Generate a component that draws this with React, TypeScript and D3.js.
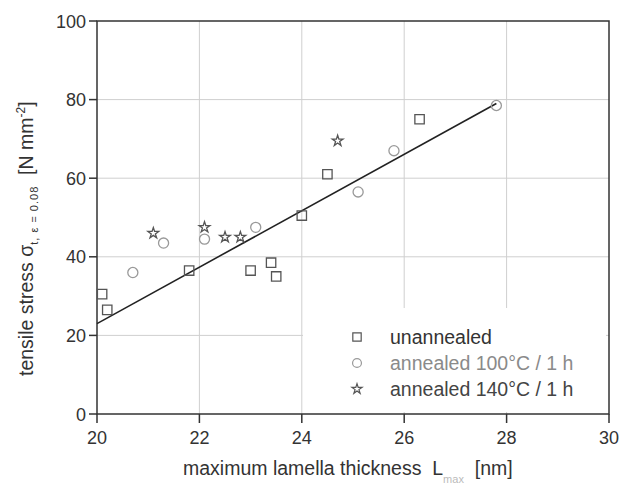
import React from "react";
import * as d3 from "d3";

const unannealedX = [20.1, 20.2, 21.8, 23.0, 23.4, 23.5, 24.0, 24.5, 26.3];
const unannealedY = [30.5, 26.5, 36.5, 36.5, 38.5, 35.0, 50.5, 61.0, 75.0];
const ann100X = [20.7, 21.3, 22.1, 23.1, 25.1, 25.8, 27.8];
const ann100Y = [36.0, 43.5, 44.5, 47.5, 56.5, 67.0, 78.5];
const ann140X = [21.1, 22.1, 22.5, 22.8, 24.7];
const ann140Y = [46.0, 47.5, 45.0, 45.0, 69.5];
const fitX = [20, 27.8];
const fitY = [23, 79];
const xTicks = [20, 22, 24, 26, 28, 30];
const yTicks = [0, 20, 40, 60, 80, 100];
const legendLabels = ["unannealed", "annealed 100°C / 1 h", "annealed 140°C / 1 h"];

const W = 620, H = 485;
const L = 97, R = 609, T = 21, B = 414;

export default function App() {
  const x = d3.scaleLinear().domain([20, 30]).range([L, R]);
  const y = d3.scaleLinear().domain([0, 100]).range([B, T]);
  const sq = d3.symbol(d3.symbolSquare, 88)()!;
  const ci = d3.symbol(d3.symbolCircle, 80)()!;
  const st = d3.symbol(d3.symbolStar, 36)()!;
  const sqL = d3.symbol(d3.symbolSquare, 70)()!;
  const ciL = d3.symbol(d3.symbolCircle, 62)()!;
  const stL = d3.symbol(d3.symbolStar, 32)()!;
  const line = d3.line<number>().x((d, i) => x(fitX[i])).y((d) => y(d));
  const font = "'Liberation Sans', Arial, sans-serif";
  const markers = [
    { xs: unannealedX, ys: unannealedY, path: sq, lpath: sqL, color: "#555", text: "#333" },
    { xs: ann100X, ys: ann100Y, path: ci, lpath: ciL, color: "#999", text: "#8a8a8a" },
    { xs: ann140X, ys: ann140Y, path: st, lpath: stL, color: "#555", text: "#444" },
  ];
  return (
    <svg width={W} height={H} style={{ position: "absolute", left: 0, top: 0, background: "#fff" }} fontFamily={font}>
      {xTicks.slice(1, -1).map((t) => (
        <line key={"gx" + t} x1={x(t)} x2={x(t)} y1={T} y2={B} stroke="#cfcfcf" strokeWidth={1} />
      ))}
      {yTicks.slice(1, -1).map((t) => (
        <line key={"gy" + t} x1={L} x2={R} y1={y(t)} y2={y(t)} stroke="#cfcfcf" strokeWidth={1} />
      ))}
      <rect x={303} y={308} width={303} height={104} fill="#fff" />
      <rect x={L} y={T} width={R - L} height={B - T} fill="none" stroke="#333" strokeWidth={1.5} />
      {xTicks.map((t) => (
        <g key={"xt" + t}>
          <line x1={x(t)} x2={x(t)} y1={B} y2={B + 9} stroke="#333" strokeWidth={1.5} />
          <text x={x(t)} y={444} textAnchor="middle" fontSize={18} fill="#333">{t}</text>
        </g>
      ))}
      {yTicks.map((t) => (
        <g key={"yt" + t}>
          <line x1={L - 8} x2={L} y1={y(t)} y2={y(t)} stroke="#333" strokeWidth={1.5} />
          <text x={86} y={y(t) + 6.5} textAnchor="end" fontSize={18} fill="#333">{t}</text>
        </g>
      ))}
      <path d={line(fitY) || ""} fill="none" stroke="#222" strokeWidth={1.6} />
      {markers.map((m, k) =>
        m.xs.map((v, i) => (
          <path key={k + "-" + i} d={m.path} transform={`translate(${x(v)},${y(m.ys[i])})`} fill="none" stroke={m.color} strokeWidth={1.3} />
        ))
      )}
      {markers.map((m, k) => (
        <g key={"lg" + k}>
          <path d={m.lpath} transform={`translate(357,${337 + k * 26})`} fill="none" stroke={m.color} strokeWidth={1.2} />
          <text x={390} y={344 + k * 26} fontSize={19.5} fill={m.text}>{legendLabels[k]}</text>
        </g>
      ))}
      <text x={183} y={475} fontSize={19.5} fill="#333">
        maximum lamella thickness{"\u00a0\u00a0"}L
        <tspan fontSize={11} dy={8} fill="#bbb">max</tspan>
        <tspan dy={-8}>{"\u00a0\u00a0"}[nm]</tspan>
      </text>
      <text transform="translate(33,376) rotate(-90)" fontSize={19.5} fill="#333">
        tensile stress σ
        <tspan fontSize={11} dy={5} letterSpacing={1}>t, ε = 0.08</tspan>
        <tspan dy={-5}>{"\u00a0\u00a0"}[N mm</tspan>
        <tspan fontSize={12} dy={-8}>-2</tspan>
        <tspan dy={8}>]</tspan>
      </text>
    </svg>
  );
}
